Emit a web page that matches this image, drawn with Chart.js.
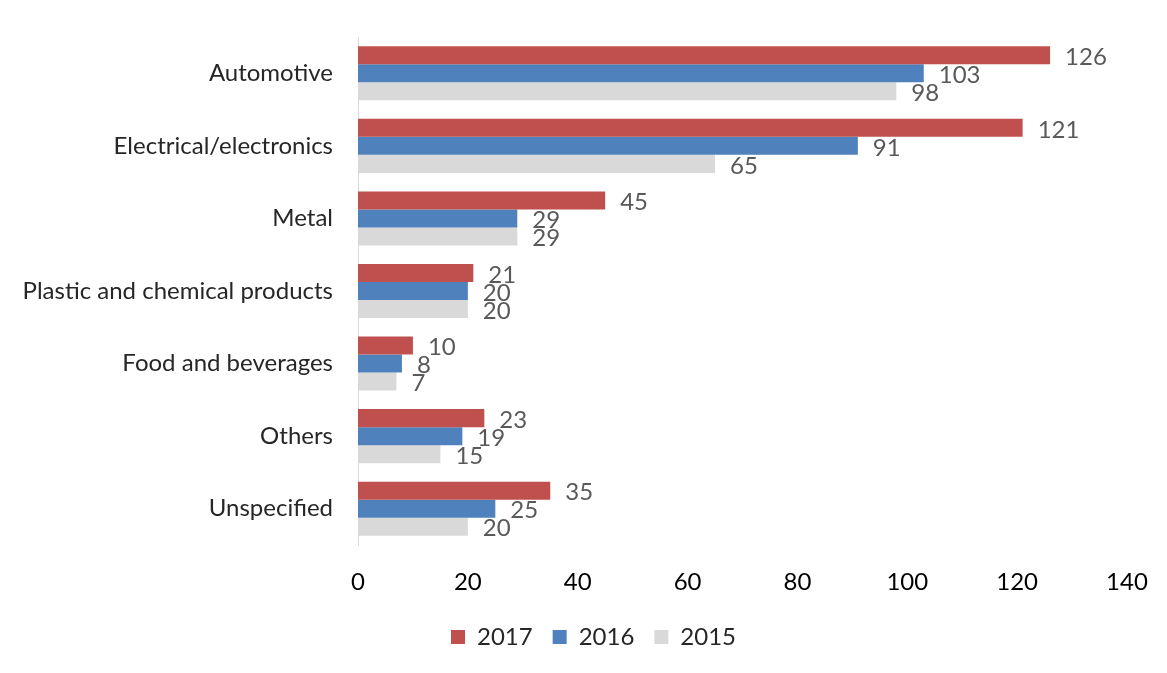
<!DOCTYPE html>
<html lang="en">
<head>
    <meta charset="UTF-8">
    <title>Industry breakdown 2015-2017</title>
    <script src="https://cdn.jsdelivr.net/npm/chart.js"></script>
    <style>
        html, body { margin: 0; padding: 0; background: #fff; }
        #wrap { width: 1167px; height: 673px; }
    </style>
</head>
<body>
    <div id="wrap"><canvas id="industryChart"></canvas></div>
    <script>
        const categories = ['Automotive', 'Electrical/electronics', 'Metal', 'Plastic and chemical products', 'Food and beverages', 'Others', 'Unspecified'];
        const values2017 = [126, 121, 45, 21, 10, 23, 35];
        const values2016 = [103, 91, 29, 20, 8, 19, 25];
        const values2015 = [98, 65, 29, 20, 7, 15, 20];
        const xTicks = [0, 20, 40, 60, 80, 100, 120, 140];

        const fontFamily = 'Lato, "Liberation Sans", sans-serif';

        // writes each bar's value just past its end
        const valueLabels = {
            id: 'valueLabels',
            afterLayout(chart) {
                // nudge the legend a little to the right of the canvas centre
                if (chart.legend) {
                    chart.legend.left += 30;
                    chart.legend.right += 30;
                }
            },
            afterDatasetsDraw(chart) {
                const ctx = chart.ctx;
                ctx.save();
                ctx.font = '24px ' + fontFamily;
                ctx.fillStyle = '#595959';
                ctx.textAlign = 'left';
                ctx.textBaseline = 'middle';
                chart.data.datasets.forEach((ds, i) => {
                    chart.getDatasetMeta(i).data.forEach((bar, j) => {
                        ctx.fillText(ds.data[j], bar.x + 15, bar.y + 2);
                    });
                });
                ctx.restore();
            }
        };

        const ctx = document.getElementById('industryChart').getContext('2d');
        const industryChart = new Chart(ctx, {
            type: 'bar',
            data: {
                labels: categories,
                datasets: [
                    { label: '2017', data: values2017, backgroundColor: '#C0504D' },
                    { label: '2016', data: values2016, backgroundColor: '#4F81BD' },
                    { label: '2015', data: values2015, backgroundColor: '#D9D9D9' }
                ]
            },
            options: {
                indexAxis: 'y',
                responsive: true,
                maintainAspectRatio: false,
                animation: false,
                datasets: {
                    bar: { categoryPercentage: 0.745, barPercentage: 1.0 }
                },
                layout: { padding: { top: 37, right: 40, bottom: 14, left: 0 } },
                scales: {
                    x: {
                        min: 0,
                        max: 140,
                        afterBuildTicks: scale => { scale.ticks = xTicks.map(v => ({ value: v })); },
                        afterFit: scale => { scale.height = 60; },
                        grid: { display: false },
                        border: { display: false },
                        ticks: { color: '#000', padding: 15, font: { family: fontFamily, size: 24 } }
                    },
                    y: {
                        afterFit: scale => { scale.width = 358; },
                        grid: { display: false },
                        border: { display: true, color: '#D9D9D9', width: 1 },
                        ticks: { color: '#262626', padding: 17, font: { family: fontFamily, size: 24 } }
                    }
                },
                plugins: {
                    legend: {
                        position: 'bottom',
                        labels: {
                            boxWidth: 14,
                            boxHeight: 14,
                            padding: 20,
                            color: '#262626',
                            font: { family: fontFamily, size: 24 }
                        }
                    },
                    tooltip: { enabled: false }
                }
            },
            plugins: [valueLabels]
        });
    </script>
</body>
</html>
